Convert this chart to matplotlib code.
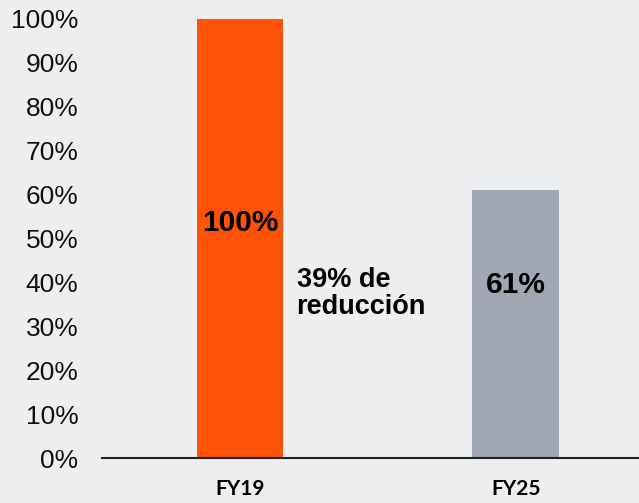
import matplotlib.pyplot as plt
from matplotlib.ticker import PercentFormatter

categories = ['FY19', 'FY25']
values = [1.00, 0.61]
value_labels = ['100%', '61%']
label_y = [0.535, 0.395]
colors = ['#FF5208', '#A2A8B3']
yticks = [i / 10 for i in range(11)]
note = '39% de\nreducción'

bg = '#EDEEF0'
fig = plt.figure(figsize=(6.39, 5.03), dpi=100, facecolor=bg)
ax = fig.add_axes([102 / 639, 1 - 458 / 503, 1 - 102 / 639, 439 / 503])
ax.set_facecolor(bg)

x = list(range(len(categories)))
ax.bar(x, values, width=0.315, color=colors)

for xi, lab, ly in zip(x, value_labels, label_y):
    ax.text(xi, ly, lab, ha='center', va='center', fontsize=21.5,
            fontweight='bold', family='Liberation Sans', color='black')

ax.text(0.205, 0.374, note, ha='left', va='center', fontsize=19.5,
        fontweight='bold', family='Liberation Sans', linespacing=1.05)

ax.set_xlim(-0.5, 1.446)
ax.set_ylim(0, 1)
ax.set_yticks(yticks)
ax.yaxis.set_major_formatter(PercentFormatter(1.0, decimals=0))
ax.tick_params(axis='y', length=0, pad=17, labelsize=19, labelcolor='#111111')
for t in ax.get_yticklabels():
    t.set_family('Liberation Sans')

ax.set_xticks(x)
ax.set_xticklabels(categories, fontsize=15, fontweight='bold', family='Lato')
ax.tick_params(axis='x', length=0, pad=15)

for s in ['top', 'right', 'left']:
    ax.spines[s].set_visible(False)
ax.spines['bottom'].set_linewidth(1.5)
ax.spines['bottom'].set_color('#222222')

fig.savefig('out.png', dpi=100, facecolor=bg)
